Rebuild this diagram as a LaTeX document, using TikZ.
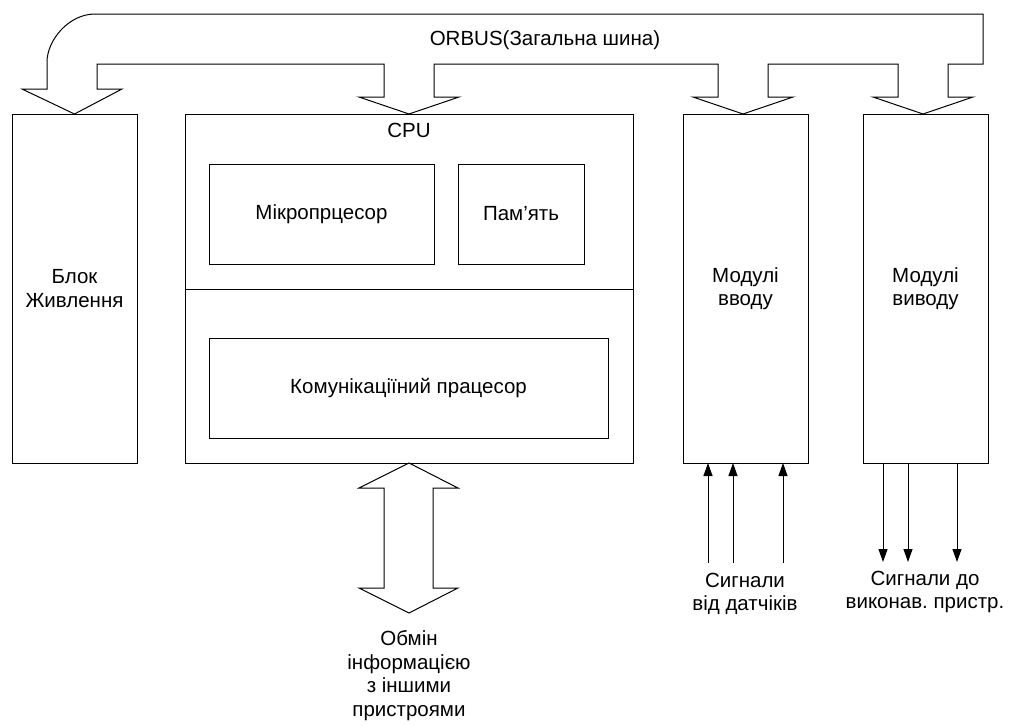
\documentclass[tikz,border=0pt]{standalone}
\usepackage{fontspec}
\setmainfont{Liberation Sans}
\frenchspacing
\usetikzlibrary{arrows.meta}
\tikzset{
  box/.style={draw, line width=1pt, inner sep=0pt, outer sep=0pt},
  txt/.style={font=\fontsize{20.5}{23.5}\selectfont, align=center, inner sep=0pt},
  sig/.style={line width=1pt, -{Triangle[length=13pt,width=9pt]}},
  fat/.style={draw, line width=1pt, line join=miter}
}
\begin{document}
\begin{tikzpicture}[x=1pt,y=-1pt]
\useasboundingbox (0,0) rectangle (1010,726);

% modules
\node[box, minimum width=125pt, minimum height=349pt] (psu) at (74.5,288.5) {};
\node[box, minimum width=448pt, minimum height=349pt] (cpu) at (409,288.5) {};
\node[box, minimum width=125pt, minimum height=349pt] (inp) at (745.5,288.5) {};
\node[box, minimum width=125pt, minimum height=349pt] (outp) at (925.5,288.5) {};

% CPU internals
\draw[line width=1pt] (cpu.west |- 0,289) -- (cpu.east |- 0,289);
\node[box, minimum width=225pt, minimum height=100pt] (mcu) at (321.5,214) {};
\node[box, minimum width=126pt, minimum height=100pt] (mem) at (521,214) {};
\node[box, minimum width=399pt, minimum height=100pt] (com) at (408.5,388) {};

% labels
\node[txt] (lcpu) at (409,130) {CPU};
\node[txt] (lpsu) at (psu) {Блок\\Живлення};
\node[txt] (linp) at (inp) {Модулі\\вводу};
\node[txt] (loutp) at (outp) {Модулі\\виводу};
\node[txt] (lmcu) at (mcu) {Мікропрцесор};
\node[txt] (lmem) at (mem) {Пам’ять};
\node[txt] (lcom) at (com) {Комунікаціїний працесор};
\node[txt] (lbus) at (545,40) {ORBUS(Загальна шина)};

% system bus with its drops to the modules
\draw[fat] (97,89) -- (97,64)
  -- (384,64) -- (384,97) -- (359,97) -- (cpu.north) -- (459,97) -- (434,97) -- (434,64)
  -- (718,64) -- (718,97) -- (693,97) -- (743,114) -- (793,97) -- (768,97) -- (768,64)
  -- (898,64) -- (898,97) -- (873,97) -- (923,114) -- (973,97) -- (948,97) -- (948,64)
  -- (983,64) -- (983,14) -- (95,14)
  .. controls (68.5,14) and (47,40.5) .. (47,62)
  -- (47,89) -- (22,89) -- (psu.north) -- (122,89) -- cycle;

% two-way exchange arrow below the CPU
\draw[fat] (cpu.south) -- (458,488) -- (433,488) -- (433,588) -- (458,588)
  -- (409,613) -- (359,588) -- (384,588) -- (384,488) -- (359,488) -- cycle;
\node[txt] (lex) at (409,675.5) {Обмін\\інформацією\\з іншими\\пристроями};

% sensor inputs
\coordinate (s1) at (708,563);
\coordinate (s2) at (733,563);
\coordinate (s3) at (783,563);
\draw[sig] (s1) -- (s1 |- inp.south);
\draw[sig] (s2) -- (s2 |- inp.south);
\draw[sig] (s3) -- (s3 |- inp.south);
\node[txt] (lsens) at (745,594) {Сигнали\\від датчіків};

% actuator outputs
\coordinate (a1) at (883,562);
\coordinate (a2) at (908,562);
\coordinate (a3) at (957,562);
\draw[sig] (a1 |- outp.south) -- (a1);
\draw[sig] (a2 |- outp.south) -- (a2);
\draw[sig] (a3 |- outp.south) -- (a3);
\node[txt] (lact) at (925,592) {Сигнали до\\виконав. пристр.};
\end{tikzpicture}
\end{document}
